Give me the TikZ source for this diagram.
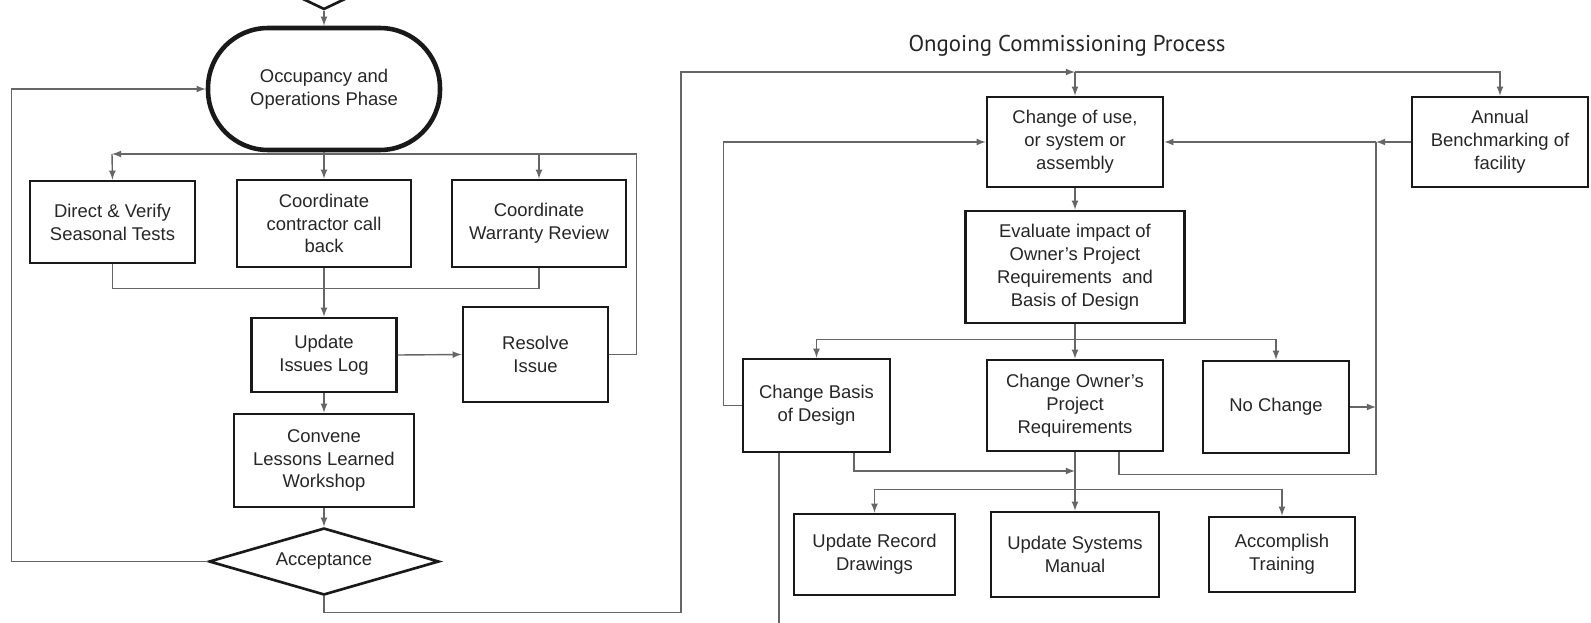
\documentclass[tikz,border=0pt]{standalone}
\usepackage{fontspec}
\setmainfont{Liberation Sans}
\newfontfamily\titlefont{PT Sans}
\usetikzlibrary{shapes.geometric}

\tikzset{
  box/.style={draw=black!90, line width=1.5pt, align=center, inner sep=2pt, text=black!85, font=\fontsize{10.5}{13}\selectfont},
  term/.style={box, line width=2.6pt, rounded corners=1.2cm},
  choice/.style={box, diamond, aspect=3.4, inner sep=0pt},
  link/.style={draw=black!60, line width=0.8pt},
}

\begin{document}
\begin{tikzpicture}[>=latex, x=0.02cm, y=-0.02cm]
   \useasboundingbox (0,0) rectangle (1591,622);

   \node[choice, aspect=2, minimum width=2.8cm, minimum height=1.34cm] (prev) at (324,-24) {};
   \node[term, minimum width=4.64cm, minimum height=2.44cm] (occ) at (324,89) {Occupancy and\\Operations Phase};

   \node[box, minimum width=3.3cm, minimum height=1.64cm] (dvst) at (112.5,222) {Direct \& Verify\\Seasonal Tests};
   \node[box, minimum width=3.48cm, minimum height=1.74cm] (ccc) at (324,223.5) {Coordinate\\contractor call\\back};
   \node[box, minimum width=3.48cm, minimum height=1.74cm] (cwr) at (539,223.5) {Coordinate\\Warranty Review};

   \node[box, minimum width=2.9cm, minimum height=1.48cm] (uil) at (324,355) {Update\\Issues Log};
   \node[box, minimum width=2.9cm, minimum height=1.9cm] (ri) at (535.5,354.5) {Resolve\\Issue};
   \node[box, minimum width=3.6cm, minimum height=1.86cm] (cllw) at (324,460.5) {Convene\\Lessons Learned\\Workshop};
   \node[choice, minimum width=4.6cm, minimum height=1.34cm] (acc) at (324,561.5) {Acceptance};

   \node[font=\titlefont\fontsize{13}{15}\selectfont, text=black!85] (title) at (1067,46) {Ongoing Commissioning Process};

   \node[box, minimum width=3.52cm, minimum height=1.8cm] (cou) at (1075,142) {Change of use,\\or system or\\assembly};
   \node[box, minimum width=3.52cm, minimum height=1.8cm] (abf) at (1500,142) {Annual\\Benchmarking of\\facility};
   \node[box, minimum width=4.38cm, minimum height=2.24cm] (eval) at (1075,267) {Evaluate impact of\\Owner's Project\\Requirements\ \ and\\Basis of Design};

   \node[box, minimum width=2.94cm, minimum height=1.86cm] (cbd) at (816.5,405.5) {Change Basis\\of Design};
   \node[box, minimum width=3.52cm, minimum height=1.82cm] (copr) at (1075,405.5) {Change Owner's\\Project\\Requirements};
   \node[box, minimum width=2.92cm, minimum height=1.84cm] (nc) at (1276,407) {No Change};

   \node[box, minimum width=3.22cm, minimum height=1.62cm] (urd) at (874.5,554.5) {Update Record\\Drawings};
   \node[box, minimum width=3.36cm, minimum height=1.7cm] (usm) at (1075,554.5) {Update Systems\\Manual};
   \node[box, minimum width=2.92cm, minimum height=1.5cm] (acct) at (1282,554.5) {Accomplish\\Training};

   \coordinate (tl) at (112,154);
   \coordinate (tj) at (1075,72);
   \coordinate (jr) at (1376,142);
   \coordinate (mj) at (1075,471);

   \draw [link,->] (prev.south) -- (occ.north) ;
   \draw [link,->] (occ.south) -- (ccc.north) ;
   \draw [link,->] (ri.east) -- ++(27,0) |- (tl) ;
   \draw [link,->] (tl) -- (dvst.north) ;
   \draw [link,->] (cwr.north |- tl) -- (cwr.north) ;
   \draw [link] (dvst.south) -- ++(0,24) -| (cwr.south) ;
   \draw [link,->] (ccc.south) -- (uil.north) ;
   \draw [link,->] (uil.east) -- (ri.west) ;
   \draw [link,->] (uil.south) -- (cllw.north) ;
   \draw [link,->] (cllw.south) -- (acc.north) ;
   \draw [link,->] (acc.west) -- ++(-196,0) |- (occ.west) ;

   \draw [link,->] (acc.south) -- ++(0,16) -| (681,72) -- (tj) ;
   \draw [link,->] (tj) -- (cou.north) ;
   \draw [link,->] (tj) -| (abf.north) ;
   \draw [link,->] (abf.west) -- (jr) ;
   \draw [link,->] (jr) -- (cou.east) ;
   \draw [link,->] (cou.south) -- (eval.north) ;
   \draw [link,->] (eval.south) -- (copr.north) ;
   \draw [link,->] (eval.south) ++(0,15) -| (cbd.north) ;
   \draw [link,->] (eval.south) ++(0,15) -| (nc.north) ;
   \draw [link,->] (cbd.west) -- ++(-18,0) |- (cou.west) ;
   \draw [link,->] (nc.east) -- (nc.east -| jr) ;
   \draw [link] ([xshift=0.88cm]copr.south) -- ++(0,22) -| (jr) ;
   \draw [link,->] ([xshift=0.75cm]cbd.south) |- (mj) ;
   \draw [link,->] (copr.south) -- (usm.north) ;
   \draw [link,->] (copr.south) ++(0,37) -| (urd.north) ;
   \draw [link,->] (copr.south) ++(0,37) -| (acct.north) ;
   \draw [link] ([xshift=-0.75cm]cbd.south) -- ++(0,200) ;
\end{tikzpicture}
\end{document}
